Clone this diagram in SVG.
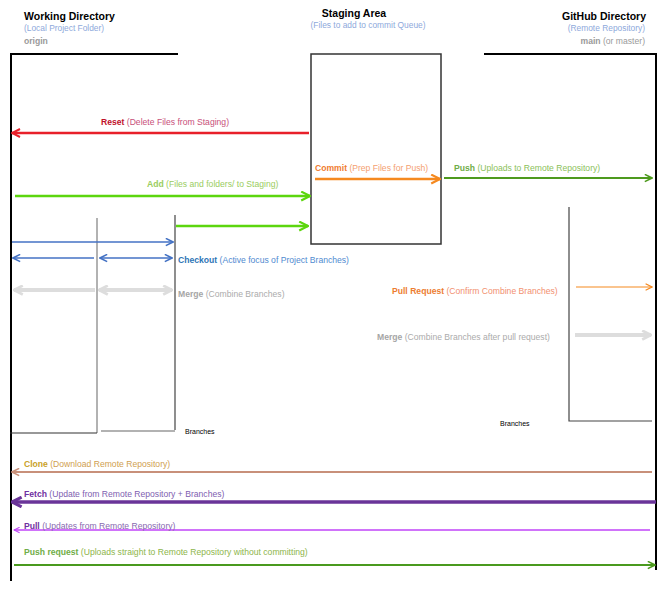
<svg xmlns="http://www.w3.org/2000/svg" width="669" height="590" viewBox="0 0 669 590">
<style>
text{font-family:"Liberation Sans",Arial,sans-serif;font-size:8.6px}
.t{font-size:10.5px;font-weight:bold;fill:#000}
.s{font-size:8.4px;fill:#8EA9DB}
.b{font-weight:bold}
.frame{fill:none;stroke:#000;stroke-width:2}
.br{fill:none;stroke:#999;stroke-width:1.5}
.brd{fill:none;stroke:#444;stroke-width:1.2}
.c{fill:none}
.small{font-size:7px;fill:#000}
</style>
<defs>
<marker id="mRed" viewBox="0 0 10 10" refX="9" refY="5" markerWidth="10" markerHeight="10" markerUnits="userSpaceOnUse" orient="auto"><path d="M1,1 L9,5 L1,9" fill="none" stroke="#E8202A" stroke-width="2"/></marker>
<marker id="mLime" viewBox="0 0 10 10" refX="9" refY="5" markerWidth="11" markerHeight="11" markerUnits="userSpaceOnUse" orient="auto"><path d="M1,1 L9,5 L1,9" fill="none" stroke="#5CD60E" stroke-width="2"/></marker>
<marker id="mOrange" viewBox="0 0 10 10" refX="9" refY="5" markerWidth="11" markerHeight="11" markerUnits="userSpaceOnUse" orient="auto"><path d="M1,1 L9,5 L1,9" fill="none" stroke="#F5891F" stroke-width="2"/></marker>
<marker id="mOrangeT" viewBox="0 0 10 10" refX="9" refY="5" markerWidth="8" markerHeight="8" markerUnits="userSpaceOnUse" orient="auto"><path d="M1,1 L9,5 L1,9" fill="none" stroke="#F5891F" stroke-width="1.5"/></marker>
<marker id="mGreen" viewBox="0 0 10 10" refX="9" refY="5" markerWidth="9" markerHeight="9" markerUnits="userSpaceOnUse" orient="auto"><path d="M1,1 L9,5 L1,9" fill="none" stroke="#4E9A1E" stroke-width="1.8"/></marker>
<marker id="mBlue" viewBox="0 0 10 10" refX="9" refY="5" markerWidth="9" markerHeight="9" markerUnits="userSpaceOnUse" orient="auto-start-reverse"><path d="M1,1 L9,5 L1,9" fill="none" stroke="#4472C4" stroke-width="1.8"/></marker>
<marker id="mGray" viewBox="0 0 10 10" refX="9" refY="5" markerWidth="11" markerHeight="11" markerUnits="userSpaceOnUse" orient="auto-start-reverse"><path d="M1,1 L9,5 L1,9" fill="none" stroke="#DDDDDD" stroke-width="2.5"/></marker>
<marker id="mBrown" viewBox="0 0 10 10" refX="9" refY="5" markerWidth="9" markerHeight="9" markerUnits="userSpaceOnUse" orient="auto"><path d="M1,1 L9,5 L1,9" fill="none" stroke="#C8907A" stroke-width="1.8"/></marker>
<marker id="mPurple" viewBox="0 0 10 10" refX="9" refY="5" markerWidth="12" markerHeight="12" markerUnits="userSpaceOnUse" orient="auto"><path d="M1,1 L9,5 L1,9" fill="none" stroke="#6A3499" stroke-width="2.6"/></marker>
<marker id="mMagenta" viewBox="0 0 10 10" refX="9" refY="5" markerWidth="7" markerHeight="7" markerUnits="userSpaceOnUse" orient="auto"><path d="M1,1 L9,5 L1,9" fill="none" stroke="#C044F8" stroke-width="1.5"/></marker>
</defs>

<g id="working-directory">
<path class="frame" d="M178,54 H11 V581"/>
<text class="t" x="24" y="20">Working Directory</text>
<text class="s" x="24" y="31">(Local Project Folder)</text>
<text x="24" y="44" class="b" style="font-size:8.6px;fill:#9A9A9A">origin</text>
</g>

<g id="staging-area">
<rect x="311" y="54" width="130" height="190" fill="none" stroke="#333" stroke-width="1.5"/>
<text class="t" x="354" y="17" text-anchor="middle">Staging Area</text>
<text class="s" x="368" y="28" text-anchor="middle">(Files to add to commit Queue)</text>
</g>

<g id="github-directory">
<path class="frame" d="M484,54 H656 V570"/>
<text class="t" x="646" y="20" text-anchor="end">GitHub Directory</text>
<text class="s" x="645" y="31" text-anchor="end">(Remote Repository)</text>
<text x="645" y="44" text-anchor="end" style="font-size:8.6px;fill:#9A9A9A"><tspan class="b">main</tspan> (or master)</text>
</g>

<g id="local-branches">
<path class="br" d="M97,218 V433"/>
<path d="M10,433 H97" stroke="#333" stroke-width="1.2" fill="none"/>
<path class="brd" d="M175,215 V430"/>
<path class="br" d="M101,431 H175"/>
<text class="small" x="185" y="434">Branches</text>
</g>

<g id="remote-branches">
<path class="brd" d="M569,207 V421 H652"/>
<text class="small" x="500" y="426">Branches</text>
</g>

<g id="connectors">
<path class="c" d="M309,133 H12" stroke="#E8202A" stroke-width="2.5" marker-end="url(#mRed)"/>
<path class="c" d="M15,196 H310" stroke="#5CD60E" stroke-width="2.5" marker-end="url(#mLime)"/>
<path class="c" d="M176,226 H308" stroke="#5CD60E" stroke-width="2.5" marker-end="url(#mLime)"/>
<path class="c" d="M315,179 H440" stroke="#F5891F" stroke-width="2.5" marker-end="url(#mOrange)"/>
<path class="c" d="M444,178 H652" stroke="#4E9A1E" stroke-width="1.8" marker-end="url(#mGreen)"/>
<path class="c" d="M12,242 H173" stroke="#4472C4" stroke-width="1.5" marker-end="url(#mBlue)"/>
<path class="c" d="M94,258 H13" stroke="#4472C4" stroke-width="1.5" marker-end="url(#mBlue)"/>
<path class="c" d="M100,258 H172" stroke="#4472C4" stroke-width="1.5" marker-start="url(#mBlue)" marker-end="url(#mBlue)"/>
<path class="c" d="M95,290 H14" stroke="#DDDDDD" stroke-width="4" marker-end="url(#mGray)"/>
<path class="c" d="M99,290 H172" stroke="#DDDDDD" stroke-width="4" marker-start="url(#mGray)" marker-end="url(#mGray)"/>
<path class="c" d="M576,287 H652" stroke="#F5891F" stroke-width="1.2" marker-end="url(#mOrangeT)"/>
<path class="c" d="M575,335 H651" stroke="#DDDDDD" stroke-width="4" marker-end="url(#mGray)"/>
<path class="c" d="M652,472 H12" stroke="#C8907A" stroke-width="2" marker-end="url(#mBrown)"/>
<path class="c" d="M656,502 H12" stroke="#6A3499" stroke-width="3.5" marker-end="url(#mPurple)"/>
<path class="c" d="M650,530 H14" stroke="#C044F8" stroke-width="1.3" marker-end="url(#mMagenta)"/>
<path class="c" d="M14,565 H655" stroke="#4A9A1E" stroke-width="1.8" marker-end="url(#mGreen)"/>
</g>

<g id="labels">
<text x="101" y="125"><tspan class="b" fill="#C0102A">Reset</tspan><tspan fill="#C8507A"> (Delete Files from Staging)</tspan></text>
<text x="147" y="187"><tspan class="b" fill="#9ACD60">Add</tspan><tspan fill="#9ACD60"> (Files and folders/ to Staging)</tspan></text>
<text x="315" y="171"><tspan class="b" fill="#F07C30">Commit</tspan><tspan fill="#F4A070"> (Prep Files for Push)</tspan></text>
<text x="454" y="171"><tspan class="b" fill="#70AD47">Push</tspan><tspan fill="#8BBF5A"> (Uploads to Remote Repository)</tspan></text>
<text x="178" y="263"><tspan class="b" fill="#2E75B6">Checkout</tspan><tspan fill="#4F8AD0"> (Active focus of Project Branches)</tspan></text>
<text x="178" y="297"><tspan class="b" fill="#A6A6A6">Merge</tspan><tspan fill="#ABABAB"> (Combine Branches)</tspan></text>
<text x="392" y="294"><tspan class="b" fill="#ED7D31">Pull Request</tspan><tspan fill="#F29070"> (Confirm Combine Branches)</tspan></text>
<text x="377" y="340"><tspan class="b" fill="#A6A6A6">Merge</tspan><tspan fill="#ABABAB"> (Combine Branches after pull request)</tspan></text>
<text x="24" y="467"><tspan class="b" fill="#C9A227">Clone</tspan><tspan fill="#D0A050"> (Download Remote Repository)</tspan></text>
<text x="24" y="497"><tspan class="b" fill="#7030A0">Fetch</tspan><tspan fill="#8060B0"> (Update from Remote Repository + Branches)</tspan></text>
<text x="24" y="529"><tspan class="b" fill="#7030A0">Pull</tspan><tspan fill="#8868B0"> (Updates from Remote Repository)</tspan></text>
<text x="24" y="555"><tspan class="b" fill="#70AD47">Push request</tspan><tspan fill="#8DB54A"> (Uploads straight to Remote Repository without committing)</tspan></text>
</g>
</svg>
